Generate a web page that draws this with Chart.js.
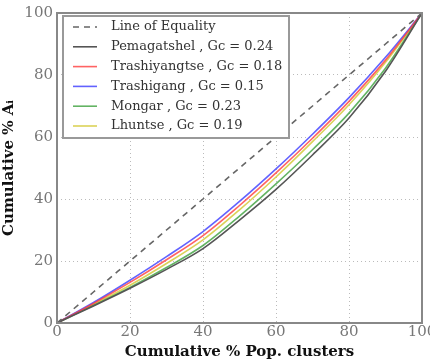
<!DOCTYPE html>
<html><head><meta charset="utf-8">
<script src="https://cdn.jsdelivr.net/npm/chart.js@4/dist/chart.umd.min.js"></script>
<style>html,body{margin:0;padding:0;background:#fff}#w{width:430px;height:363px}</style>
</head><body><div id="w"><canvas id="c"></canvas></div>
<script>
const popPct = [0,10,20,30,40,50,60,70,80,90,100];
const equality = [0,10,20,30,40,50,60,70,80,90,100];
const pemagatshel = [0,5.5,11.2,17.3,24.0,33.2,43.1,54.2,66.1,81.2,100];
const trashiyangtse = [0,6.3,13.1,20.4,28.2,37.9,48.4,59.6,71.5,84.8,100];
const trashigang = [0,6.6,13.8,21.4,29.5,39.2,49.7,60.9,72.7,85.7,100];
const mongar = [0,5.7,11.5,17.9,25.0,34.5,44.9,55.9,67.7,82.2,100];
const lhuntse = [0,6.0,12.2,19.2,26.8,36.5,47.1,58.5,70.4,84.1,100];
const labels = ['Line of Equality','Pemagatshel , Gc = 0.24','Trashiyangtse , Gc = 0.18','Trashigang , Gc = 0.15','Mongar , Gc = 0.23','Lhuntse , Gc = 0.19'];
const xTicks = [0,20,40,60,80,100];

const pts = a => a.map((v,i)=>({x:popPct[i],y:v}));
const SERIF = '"DejaVu Serif","Liberation Serif",serif';

function ds(label, data, color, dash){
  return {label, data:pts(data), borderColor:color, backgroundColor:color, borderWidth:1.6,
    borderDash:dash||[], pointRadius:0, cubicInterpolationMode:'monotone', fill:false};
}

const legendBox = {
  id:'legendBox',
  afterDraw(chart){
    const ctx = chart.ctx, a = chart.chartArea;
    ctx.save();
    ctx.strokeStyle='#888'; ctx.lineWidth=2;
    ctx.strokeRect(a.left, a.top, a.right-a.left, a.bottom-a.top);
    const x0=63, y0=16, w=226, h=122;
    ctx.fillStyle='#fff'; ctx.fillRect(x0,y0,w,h);
    ctx.strokeStyle='#999'; ctx.lineWidth=2; ctx.strokeRect(x0,y0,w,h);
    ctx.font='13px '+SERIF; ctx.textBaseline='middle'; ctx.fillStyle='#333';
    chart.data.datasets.forEach((d,i)=>{
      const y = y0+11+i*19.8;
      ctx.strokeStyle=d.borderColor; ctx.lineWidth=1.6;
      ctx.setLineDash(d.borderDash||[]);
      ctx.beginPath(); ctx.moveTo(73,y); ctx.lineTo(97,y); ctx.stroke();
      ctx.setLineDash([]);
      ctx.fillText(d.label, 111, y);
    });
    ctx.restore();
  }
};

new Chart(document.getElementById('c'), {
  type:'line',
  data:{datasets:[
    ds(labels[0], equality, '#666', [6,5]),
    ds(labels[1], pemagatshel, '#555'),
    ds(labels[2], trashiyangtse, 'rgba(255,60,60,0.8)'),
    ds(labels[3], trashigang, 'rgba(70,70,255,0.85)'),
    ds(labels[4], mongar, 'rgba(60,160,60,0.8)'),
    ds(labels[5], lhuntse, 'rgba(215,205,70,0.9)')
  ]},
  options:{
    responsive:true, maintainAspectRatio:false, animation:false,
    layout:{padding:{top:10,right:0,left:0,bottom:0}},
    plugins:{legend:{display:false}, tooltip:{enabled:false}},
    scales:{
      x:{type:'linear', min:0, max:100,
        afterBuildTicks:s=>{s.ticks=xTicks.map(v=>({value:v}));},
        afterFit:s=>{s.height=40; s.paddingRight=8;},
        grid:{color:'#bbb', lineWidth:1, drawTicks:false},
        border:{display:false, dash:[1,3]},
        ticks:{color:'#777', font:{family:SERIF,size:15}, padding:0},
        title:{display:true, text:'Cumulative % Pop. clusters', color:'#111', font:{family:SERIF,size:15,weight:'bold'}, padding:{top:0,bottom:2}}
      },
      y:{min:0, max:100,
        afterBuildTicks:s=>{s.ticks=xTicks.map(v=>({value:v}));},
        afterFit:s=>{s.width=57;},
        grid:{color:'#bbb', lineWidth:1, drawTicks:false},
        border:{display:false, dash:[1,3]},
        ticks:{color:'#777', font:{family:SERIF,size:15}, padding:4},
        title:{display:true, text:'Cumulative % Aᵢ', color:'#111', font:{family:SERIF,size:15,weight:'bold'}, padding:{top:0,bottom:2}}
      }
    }
  },
  plugins:[legendBox]
});
</script></body></html>
